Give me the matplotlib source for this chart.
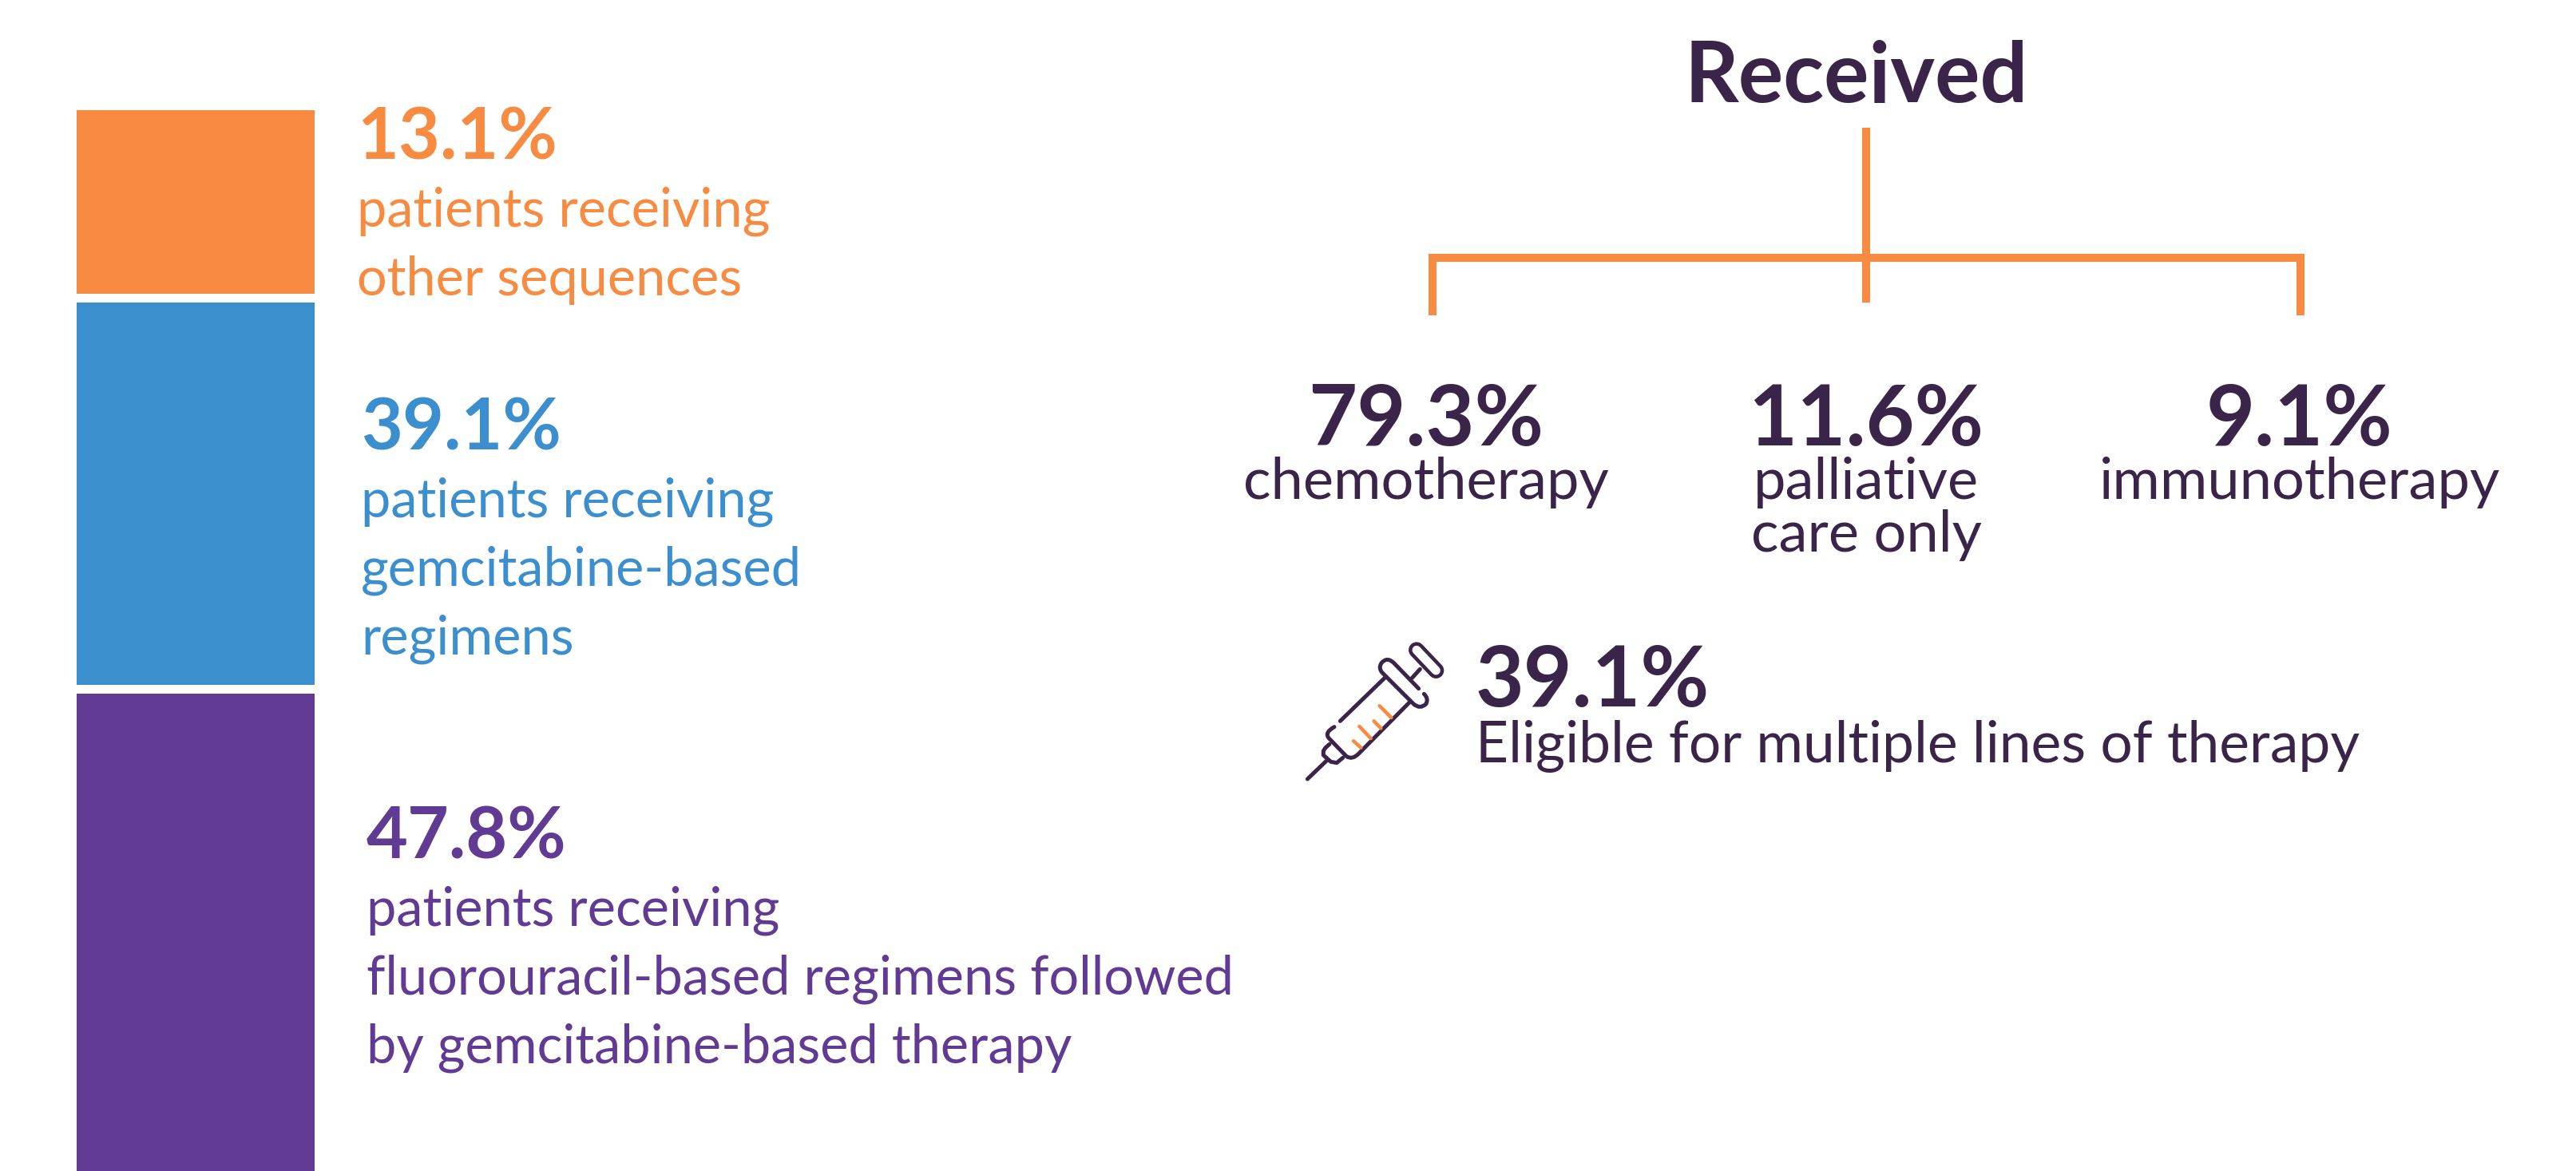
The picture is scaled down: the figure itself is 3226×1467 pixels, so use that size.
#!/usr/bin/env python3
"""Treatment sequences stacked bar plus received-therapy tree. Output: out.png"""

import numpy as np
import matplotlib
matplotlib.use("Agg")
import matplotlib.pyplot as plt
from matplotlib.path import Path
from matplotlib.patches import PathPatch

plt.rcParams["font.family"] = ["Lato", "DejaVu Sans"]

# Data, bottom to top of the stacked bar
SEQ_VALUES = [47.8, 39.1, 13.1]
SEQ_LINES = [
    ["patients receiving", "fluorouracil-based regimens followed", "by gemcitabine-based therapy"],
    ["patients receiving", "gemcitabine-based", "regimens"],
    ["patients receiving", "other sequences"],
]
RECEIVED_VALUES = [79.3, 11.6, 9.1]
RECEIVED_LABELS = [["chemotherapy"], ["palliative", "care only"], ["immunotherapy"]]
MULTI_LINE_VALUE = 39.1
MULTI_LINE_LABEL = "Eligible for multiple lines of therapy"

ORANGE = "#F68B41"
BLUE = "#3C8FCE"
PURPLE = "#603A93"
DARK = "#3A2449"
SEQ_COLORS = [PURPLE, BLUE, ORANGE]

W, H = 3226, 1467
PX = 72 / 100  # points per pixel at dpi=100

fig = plt.figure(figsize=(W / 100, H / 100), dpi=100, facecolor="white")

# pixel canvas for text, tree and icon
ax = fig.add_axes([0, 0, 1, 1])
ax.set_xlim(0, W)
ax.set_ylim(H, 0)
ax.axis("off")

#  Stacked bar 
# the segments in the reference are not to scale, so the axis is piecewise
bar_top = 138
bar = fig.add_axes([96 / W, 0, 298 / W, (H - bar_top) / H])
knots_pct = [0, 47.8, 86.9, 100]
knots_px = [0, 604, 1094.5, 1329]
bar.set_yscale("function", functions=(
    lambda v: np.interp(v, knots_pct, knots_px),
    lambda p: np.interp(p, knots_px, knots_pct),
))
bar.set_ylim(0, 100)
bar.set_xlim(0, 1)
bar.axis("off")

bottom = 0
for val, color in zip(SEQ_VALUES, SEQ_COLORS):
    bar.bar(0.5, val, width=1, bottom=bottom, color=color, lw=0)
    bottom += val
    if bottom < 100:
        bar.axhline(bottom, color="white", lw=11 * PX)

#  Sequence labels 
NUM_SIZE = 64.5
LAB_SIZE = 48
seq_x = [459, 452, 447]
seq_num_y = [1076, 564, 200]
seq_lab_y = [[1160, 1245, 1331], [648, 734, 820], [284, 370]]
for val, lines, color, x, ny, ly in zip(SEQ_VALUES, SEQ_LINES, SEQ_COLORS, seq_x, seq_num_y, seq_lab_y):
    ax.text(x, ny, f"{val}%", color=color, fontsize=NUM_SIZE, fontweight="bold", va="baseline")
    for line, y in zip(lines, ly):
        ax.text(x, y, line, color=color, fontsize=LAB_SIZE, va="baseline")

#  Received tree 
ax.text(2325, 128, "Received", color=DARK, fontsize=76, fontweight="bold", ha="center", va="baseline")
ax.plot([2337, 2337], [160, 379], color=ORANGE, lw=10 * PX, solid_capstyle="butt")
ax.plot([1794, 1794, 2881, 2881], [395, 322.5, 322.5, 395], color=ORANGE, lw=10 * PX,
        solid_capstyle="butt", solid_joinstyle="miter")

tree_x = [1786, 2337, 2880]
for val, lines, x in zip(RECEIVED_VALUES, RECEIVED_LABELS, tree_x):
    ax.text(x, 558, f"{val}%", color=DARK, fontsize=76, fontweight="bold", ha="center", va="baseline")
    for i, line in enumerate(lines):
        ax.text(x, 625 + i * 66, line, color=DARK, fontsize=52, ha="center", va="baseline")

ax.text(1848, 885, f"{MULTI_LINE_VALUE}%", color=DARK, fontsize=75.5, fontweight="bold", va="baseline")
ax.text(1848, 955, MULTI_LINE_LABEL, color=DARK, fontsize=51.3, va="baseline")


#  Syringe icon, coordinates from a 3x crop 
def zp(x, y):
    return (1600 + x / 3, 760 + y / 3)


def stroke(pts, color=DARK, lw=5.0):
    xs, ys = zip(*[zp(*p) for p in pts])
    ax.plot(xs, ys, color=color, lw=lw * PX, solid_capstyle="round", solid_joinstyle="round")


def curve(verts, codes, lw=5.0):
    path = Path([zp(*v) for v in verts], codes)
    ax.add_patch(PathPatch(path, fc="none", ec=DARK, lw=lw * PX, capstyle="round", joinstyle="round"))


M, L, C = Path.MOVETO, Path.LINETO, Path.CURVE3
stroke([(112, 648), (185, 578)])
stroke([(195, 517), (180, 530), (172, 542), (172, 558), (200, 583), (222, 587), (245, 568)])
curve([(495, 360), (305, 552), (280, 578), (258, 562), (195, 497), (172, 475), (213, 452)],
      [M, L, C, C, L, C, C])
stroke([(235, 430), (402, 268)])
curve([(530, 308), (440, 215), (412, 185), (390, 212), (378, 230), (392, 247), (510, 365),
       (535, 388), (558, 365), (568, 345), (550, 328)],
      [M, L, C, C, C, C, L, C, C, C, C])
stroke([(505, 268), (535, 235)])
ax.plot(*zip(zp(522, 163), zp(595, 240)), color=DARK, lw=20 * PX, solid_capstyle="round")
ax.plot(*zip(zp(522, 163), zp(595, 240)), color="white", lw=11 * PX, solid_capstyle="round")
for seg in [[(285, 505), (313, 530)], [(307, 450), (350, 495)],
            [(362, 430), (388, 457)], [(383, 373), (427, 417)]]:
    stroke(seg, color=ORANGE, lw=4.5)

fig.savefig("out.png", dpi=100, facecolor="white")
